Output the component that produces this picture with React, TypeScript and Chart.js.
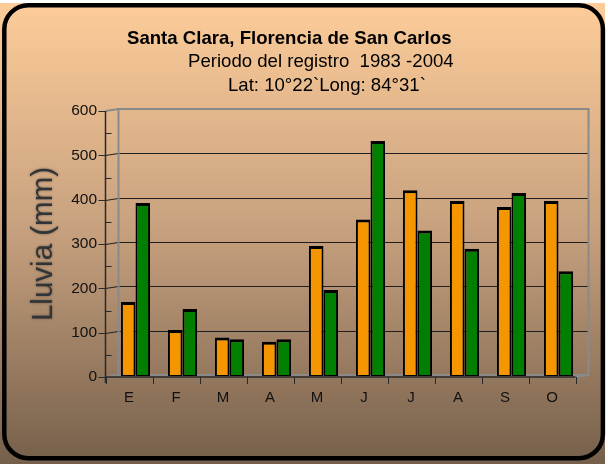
import React, { useEffect, useRef } from "react";
import { Chart, registerables } from "chart.js";
Chart.register(...registerables);

const months = ["E", "F", "M", "A", "M", "J", "J", "A", "S", "O"];
const seriesOrange = [167, 104, 87, 77, 293, 353, 419, 395, 381, 395];
const seriesGreen = [390, 151, 83, 83, 194, 530, 328, 287, 413, 236];
const yTicks = [0, 100, 200, 300, 400, 500, 600];
const titleLines = [
  "Santa Clara, Florencia de San Carlos",
  "Periodo del registro  1983 -2004",
  "Lat: 10°22`Long: 84°31`",
];
const yTitle = "Lluvia (mm)";

const FAMILY = "'Liberation Sans', Arial, sans-serif";
const DEPTH = 6.5;
const DY = 1;

const decor = {
  id: "decor",
  beforeDraw(chart: any) {
    const { ctx } = chart;
    ctx.save();
    const g = ctx.createLinearGradient(0, 3, 0, 462);
    g.addColorStop(0, "#FDCC99");
    g.addColorStop(0.5, "#C6A07E");
    g.addColorStop(1, "#76604B");
    ctx.fillStyle = g;
    ctx.fillRect(0, 3, 605, 461);
    ctx.lineWidth = 4.5;
    ctx.strokeStyle = "#000";
    ctx.beginPath();
    ctx.roundRect(4.3, 5.2, 598.6, 453, 24);
    ctx.stroke();

    ctx.fillStyle = "#000";
    ctx.textBaseline = "alphabetic";
    ctx.textAlign = "left";
    ctx.font = "bold 18.6px " + FAMILY;
    ctx.fillText(titleLines[0], 127, 43.5);
    ctx.font = "18.6px " + FAMILY;
    ctx.fillText(titleLines[1], 188, 67);
    ctx.fillText(titleLines[2], 228, 90.5);

    ctx.save();
    ctx.translate(44, 244);
    ctx.rotate(-Math.PI / 2);
    ctx.textAlign = "center";
    ctx.textBaseline = "middle";
    ctx.font = "29.5px " + FAMILY;
    ctx.shadowColor = "rgba(0,0,0,0.45)";
    ctx.shadowBlur = 2.5;
    ctx.fillStyle = "#303438";
    ctx.fillText(yTitle, 0, 0);
    ctx.restore();
    ctx.restore();
  },
  beforeDatasetsDraw(chart: any) {
    const { ctx, chartArea } = chart;
    const y = chart.scales.y;
    const L = chartArea.left, R = chartArea.right;
    const bx0 = L + DEPTH, bx1 = R + DEPTH;
    const fx0 = L - DEPTH, fx1 = R - DEPTH;
    const by = (v: number) => y.getPixelForValue(v) - DY;
    const fy = (v: number) => y.getPixelForValue(v) + DY;
    const top = yTicks[yTicks.length - 1];
    ctx.save();
    ctx.lineWidth = 1;
    ctx.strokeStyle = "#1e1e1e";
    yTicks.forEach((v) => {
      if (v === 0 || v === top) return;
      ctx.beginPath();
      ctx.moveTo(fx0, Math.round(fy(v)) + 0.5);
      ctx.lineTo(bx0, Math.round(by(v)) + 0.5);
      ctx.lineTo(bx1, Math.round(by(v)) + 0.5);
      ctx.stroke();
    });
    ctx.lineWidth = 2;
    ctx.strokeStyle = "#8a8a8a";
    ctx.beginPath();
    ctx.rect(bx0, by(top), bx1 - bx0, by(0) - by(top));
    ctx.stroke();
    ctx.beginPath();
    ctx.moveTo(fx0, fy(top));
    ctx.lineTo(bx0, by(top));
    ctx.moveTo(fx0, fy(0));
    ctx.lineTo(bx0, by(0));
    ctx.moveTo(bx1, by(0));
    ctx.lineTo(fx1, fy(0));
    ctx.stroke();
    ctx.strokeStyle = "#2a2a2a";
    ctx.lineWidth = 1.5;
    ctx.beginPath();
    ctx.moveTo(fx0, fy(top));
    ctx.lineTo(fx0, fy(0) + 6);
    ctx.moveTo(fx0, fy(0));
    ctx.lineTo(fx1, fy(0));
    ctx.stroke();
    ctx.lineWidth = 1;
    ctx.beginPath();
    yTicks.forEach((v, i) => {
      ctx.moveTo(fx0 - 7, Math.round(fy(v)) + 0.5);
      ctx.lineTo(fx0, Math.round(fy(v)) + 0.5);
      if (i < yTicks.length - 1) {
        const m = (v + yTicks[i + 1]) / 2;
        ctx.moveTo(fx0, Math.round(fy(m)) + 0.5);
        ctx.lineTo(fx0 + 6, Math.round(fy(m)) + 0.5);
      }
    });
    const n = months.length;
    const step = (R - L) / n;
    for (let i = 0; i <= n; i++) {
      const px = Math.round(fx0 + i * step) + 0.5;
      ctx.moveTo(px, fy(0));
      ctx.lineTo(px, fy(0) + 7);
    }
    ctx.stroke();
    ctx.restore();
  },
};

export default function App() {
  const ref = useRef<HTMLCanvasElement>(null);
  useEffect(() => {
    if (!ref.current) return;
    const chart = new Chart(ref.current, {
      type: "bar",
      data: {
        labels: months,
        datasets: [
          {
            data: seriesOrange,
            backgroundColor: "#F59600",
            borderColor: "#000",
            borderWidth: { top: 3, left: 2, right: 2, bottom: 1 },
            borderSkipped: false,
            categoryPercentage: 0.62,
            barPercentage: 1,
          },
          {
            data: seriesGreen,
            backgroundColor: "#007F00",
            borderColor: "#000",
            borderWidth: { top: 3, left: 2, right: 2, bottom: 1 },
            borderSkipped: false,
            categoryPercentage: 0.62,
            barPercentage: 1,
          },
        ],
      },
      options: {
        responsive: false,
        animation: false,
        layout: { padding: { top: 110, right: 26, bottom: 0, left: 0 } },
        plugins: {
          legend: { display: false },
          tooltip: { enabled: false },
          title: { display: false },
        },
        scales: {
          x: {
            grid: { display: false, drawTicks: false },
            border: { display: false },
            ticks: {
              color: "#111",
              font: { family: FAMILY, size: 15 },
              padding: 13,
              labelOffset: -DEPTH,
              maxRotation: 0,
              autoSkip: false,
            },
            afterFit: (s: any) => {
              s.height = 88;
            },
          },
          y: {
            min: 0,
            max: 600,
            grid: { display: false, drawTicks: false },
            border: { display: false },
            ticks: {
              stepSize: 100,
              color: "#111",
              font: { family: FAMILY, size: 15.5 },
              padding: 15,
              labelOffset: DY,
            },
            afterFit: (s: any) => {
              s.width = 112;
            },
          },
        },
      },
      plugins: [decor],
    });
    return () => chart.destroy();
  }, []);
  return (
    <div style={{ position: "absolute", left: 0, top: 0, width: 608, height: 464 }}>
      <canvas ref={ref} width={608} height={464} style={{ display: "block" }} />
    </div>
  );
}
